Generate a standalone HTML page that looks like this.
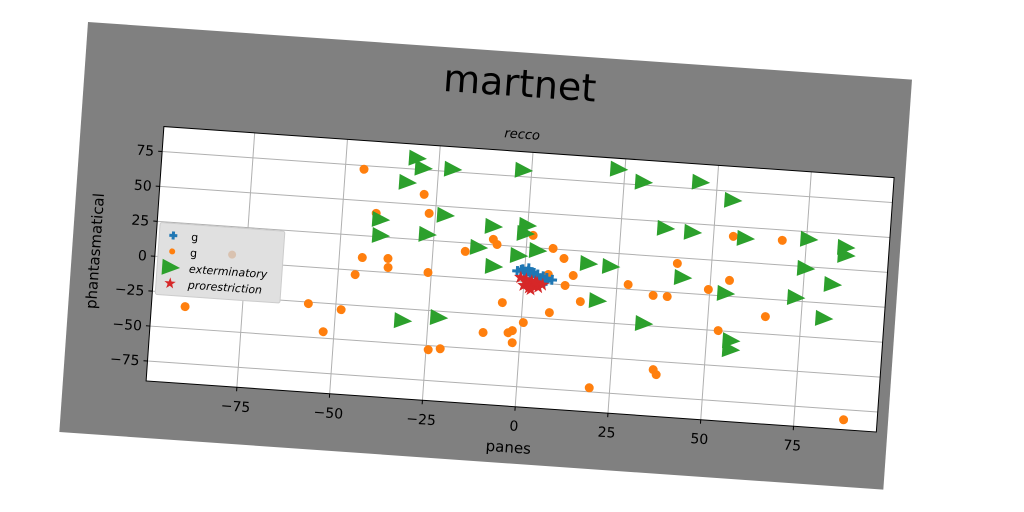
<!DOCTYPE html>
<html><head><meta charset="utf-8"><style>
html,body{margin:0;padding:0;background:#fff;width:1024px;height:512px;overflow:hidden}
#fig{position:absolute;left:88px;top:22px;width:826px;height:411px;transform-origin:0 0;transform:rotate(4deg);background:#808080}
svg text{font-family:"DejaVu Sans","Liberation Sans",sans-serif}
</style></head><body>
<div id="fig">
<svg id="chart" width="826" height="411"></svg>
</div>
<script>
const xTicks=[-75,-50,-25,0,25,50,75];
const yTicks=[-75,-50,-25,0,25,50,75];
const gX=[-0.6,1,2.5,3.5,5,6,7.5,-2,0,1.5,3,4.5,6,-1,0.5,2,4,5.5,3,1];
const gY=[9,8,7,6,5,4,3,7.5,6.5,5.5,4.5,3.5,2,8.5,7,6,3,1.5,5,10];
const sX=[-1,0.5,2,3.5,1,2.5,4,0,1.5,3,2,5];
const sY=[3,2,1,0,-1,-2,-3,-2.5,-4,0.5,-5,-1];
const tX=[-31,-29.2,-21.3,-2.3,-33.2,-22.4,-39.7,-39.4,-26.9,-9.3,-0.2,-12.9,-2,-8.5,-31.9,-22.3,23.2,30.1,45.4,54.4,-0.6,36.9,44.2,58.5,75.5,85.6,85.8,3,16.9,22.9,42.4,75.2,82.7,54.2,73.1,20,81,32.8,56.5,56.6];
const tY=[82.9,76.1,76.8,79.6,65.2,43.6,37.4,26,29.1,38.1,40.5,22.4,18.6,9.6,-33.6,-29.6,85.1,77.1,79.9,68.6,34.7,45.3,43.8,42.1,44.6,40.7,35,23.1,16.4,15.4,11.1,23.7,13.6,1.9,2.5,-9.6,-11,-23.6,-31.5,-37.9];
const oX=[-45,-28.4,-26.7,-40.9,-9,-7.9,-16.3,1.6,-43.8,-36.9,-36.7,-25.9,-45.4,-90.4,-57.4,-48.5,-5.4,0.6,-2.2,-3.3,-10,-52.9,-2,-24.4,-21.2,7.2,10.3,6.4,13.1,11.1,28,40.8,34.9,38.7,49.6,55.1,55.3,68.5,15.5,7.4,65.4,53,36.3,37.2,19.5,88.3];
const oY=[72.4,57.5,44.2,41.6,28.9,25.4,18.9,33.7,9.4,10,3.6,2,-3.1,-34.4,-26.1,-28.8,-15.7,-28.9,-35.2,-36.9,-38,-45.4,-43.8,-53,-51.7,25.4,18.8,6.6,7.1,-0.4,3.4,20.9,-3.1,-3.2,3.9,11.4,43,42.6,-11.1,-20.5,-12.6,-24.9,-56,-59.4,-72.1,-82.2];

const svg=document.getElementById('chart');
const NS='http://www.w3.org/2000/svg';
const PL=83,PR=815,PT=99,PB=354;
const X0=453,XS=3.72,Y0=229,YS=1.4;
const sx=v=>X0+v*XS, sy=v=>Y0-v*YS;
function mk(t,a,p){const e=document.createElementNS(NS,t);for(const k in a)e.setAttribute(k,a[k]);(p||svg).appendChild(e);return e;}

const title=mk('text',{x:435,y:44,'text-anchor':'middle','font-size':38,fill:'#000','font-family':'"Comic Sans MS","DejaVu Sans",sans-serif'});
title.textContent='martnet';



const plot=mk('rect',{x:PL,y:PT,width:PR-PL,height:PB-PT,fill:'#fff'});



const sub=mk('text',{x:441,y:86,'text-anchor':'middle','font-size':13,'font-style':'italic',fill:'#000','font-family':'"Liberation Serif",serif'});
sub.textContent='recco';



xTicks.forEach(v=>{
  const g=mk('line',{x1:sx(v),x2:sx(v),y1:PT,y2:PB,stroke:'#b0b0b0','stroke-width':1});
  
  
  mk('line',{x1:sx(v),x2:sx(v),y1:PB,y2:PB+4,stroke:'#000'});
  const t=mk('text',{x:sx(v),y:PB+24,'text-anchor':'middle','font-size':14,fill:'#000'});
  t.textContent=v<0?'\u2212'+(-v):String(v);
  
  
});
yTicks.forEach(v=>{
  const g=mk('line',{x1:PL,x2:PR,y1:sy(v),y2:sy(v),stroke:'#b0b0b0','stroke-width':1});
  
  
  mk('line',{x1:PL-4,x2:PL,y1:sy(v),y2:sy(v),stroke:'#000'});
  const t=mk('text',{x:PL-8,y:sy(v)+5,'text-anchor':'end','font-size':14,fill:'#000'});
  t.textContent=v<0?'\u2212'+(-v):String(v);
  
  
});

function tri(cx,cy,p,name){const e=mk('polygon',{points:`${cx-8},${cy-8} ${cx+10},${cy} ${cx-8},${cy+8}`,fill:'#2ca02c'},p);return e;}
function star(cx,cy,r,p){let pts=[];for(let i=0;i<10;i++){const a=-Math.PI/2+i*Math.PI/5,rr=i%2?r*0.4:r;pts.push((cx+rr*Math.cos(a)).toFixed(1)+','+(cy+rr*Math.sin(a)).toFixed(1));}return mk('polygon',{points:pts.join(' '),fill:'#d62728'},p);}
function plus(cx,cy,r,p){return mk('path',{d:`M${cx-r},${cy}H${cx+r}M${cx},${cy-r}V${cy+r}`,stroke:'#1f77b4','stroke-width':3},p);}

oX.forEach((v,i)=>{const c=mk('circle',{cx:sx(v),cy:sy(oY[i]),r:4.5,fill:'#ff7f0e'});
  
  });
tX.forEach((v,i)=>{tri(sx(v),sy(tY[i]),svg,'exterminatory-point');});
gX.forEach((v,i)=>{const e=plus(sx(v),sy(gY[i]),5);
  
  });
sX.forEach((v,i)=>{const e=star(sx(v),sy(sY[i]),7);
  
  });

const border=mk('rect',{x:PL,y:PT,width:PR-PL,height:PB-PT,fill:'none',stroke:'#000','stroke-width':1});



const xl=mk('text',{x:449,y:400,'text-anchor':'middle','font-size':15,fill:'#000'});
xl.textContent='panes';


const yl=mk('text',{x:0,y:0,'text-anchor':'middle','font-size':15,fill:'#000',transform:'translate(28,228) rotate(-90)'});
yl.textContent='phantasmatical';



const lg=mk('g',{});


mk('rect',{x:86,y:195,width:125,height:72,fill:'#e0e0e0',stroke:'#ccc',rx:2},lg);
const labels=['g','g','exterminatory','prorestriction'];
labels.forEach((l,i)=>{
  const y=207+i*16;
  if(i==0)plus(100,y,4,lg);
  else if(i==1)mk('circle',{cx:100,cy:y,r:3,fill:'#ff7f0e'},lg);
  else if(i==2)tri(99,y,lg,'legend-marker');
  else star(100,y,6,lg);
  const t=mk('text',{x:118,y:y+4,'font-size':11,'font-style':i>1?'italic':'normal',fill:'#000'},lg);
  t.textContent=l;
  
  
});
mk('circle',{cx:160,cy:222,r:4,fill:'#d9c2b0'},lg);
</script>
</body></html>
